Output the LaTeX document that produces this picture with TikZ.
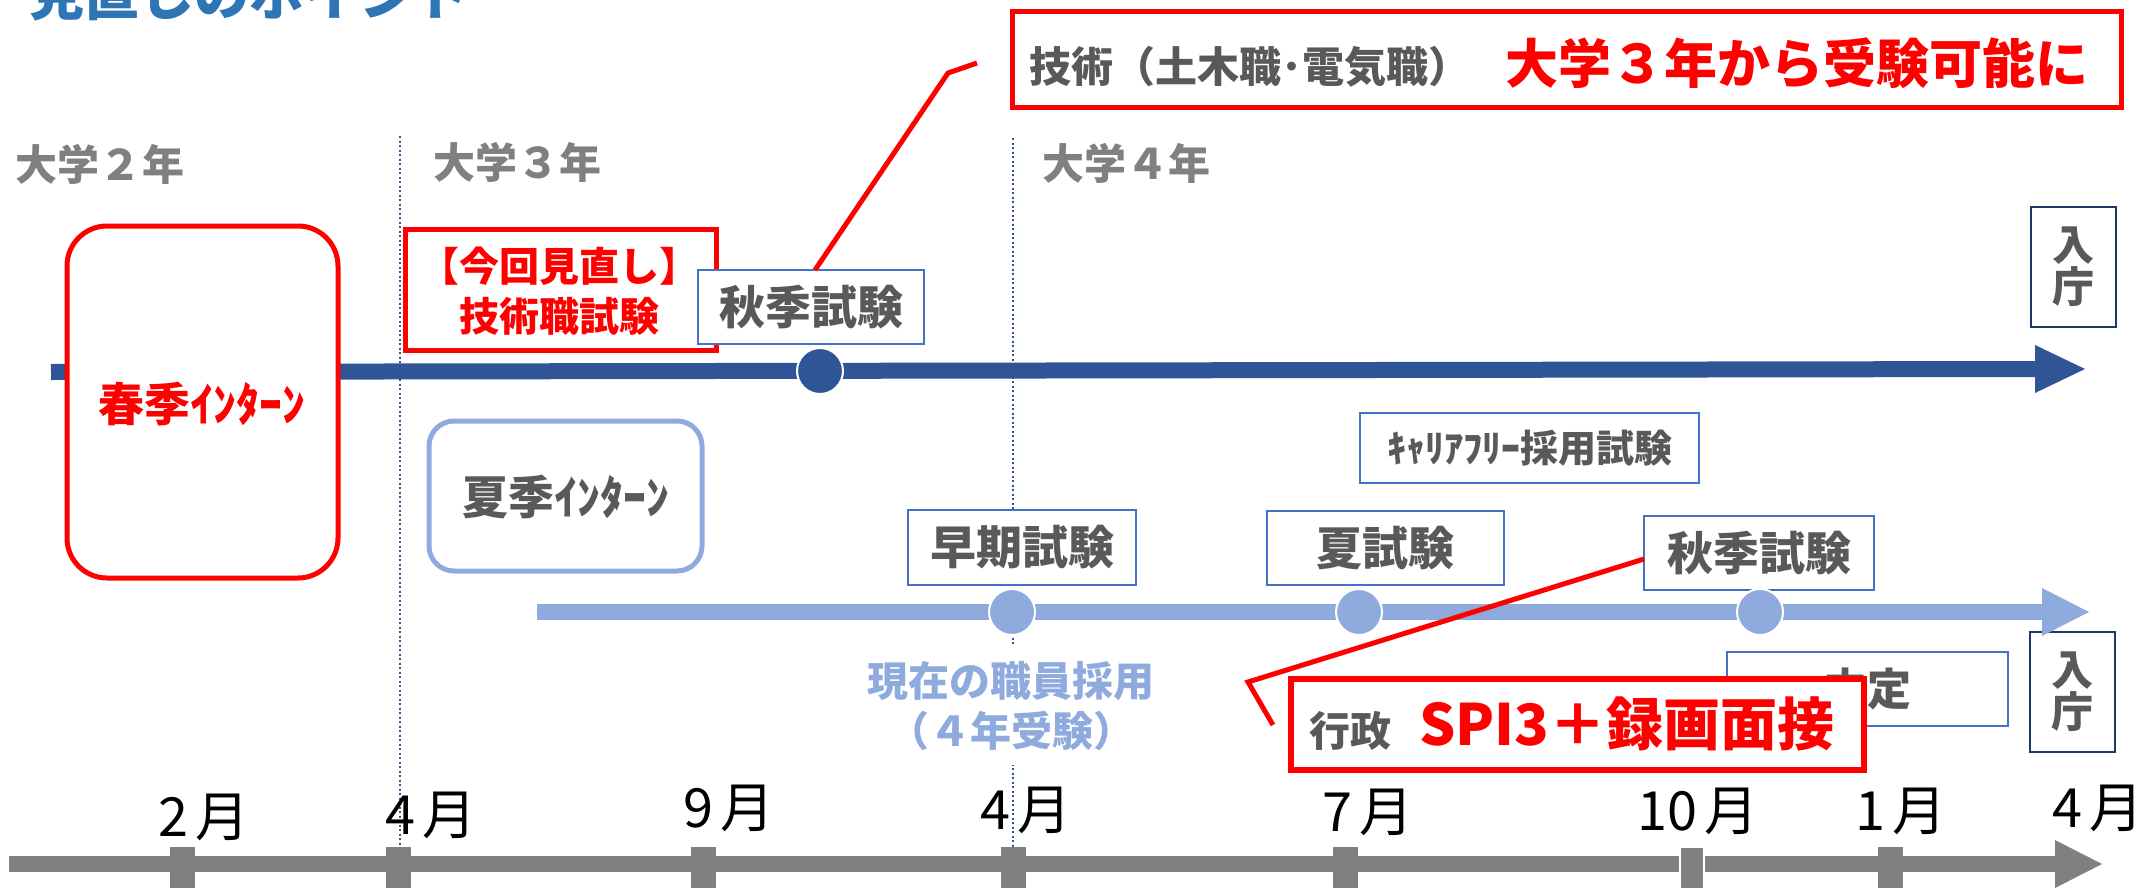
\documentclass[tikz,border=0pt]{standalone}
\usepackage{fontspec}
\newfontfamily\jp{Noto Sans CJK JP}
\definecolor{titleblue}{HTML}{2E75B6}
\definecolor{yeargray}{HTML}{808080}
\definecolor{txtgray}{HTML}{595959}
\definecolor{navy}{HTML}{2F5597}
\definecolor{lblue}{HTML}{8FAADC}
\definecolor{bblue}{HTML}{4472C4}
\definecolor{dnavy}{HTML}{203864}
\definecolor{axgray}{HTML}{808080}
\newcommand\myfs[2]{\fontsize{#1}{#2}\selectfont}
\newcommand\mon[1]{#1\hspace{7pt}月}
\begin{document}
\begin{tikzpicture}[x=1pt,y=-1pt,
  every node/.style={inner sep=0pt, outer sep=0pt},
  ebox/.style={draw=bblue, line width=2pt, fill=white, font=\jp\bfseries\myfs{46}{50}, text=txtgray},
  redbox/.style={draw=red, line width=5pt, fill=white},
  yearlbl/.style={font=\jp\bfseries\myfs{42}{46}, text=yeargray},
  monlbl/.style={font=\jp\myfs{54}{58}, text=black},
  tickbox/.style={fill=axgray, minimum width=25pt, minimum height=46pt},
  vdot/.style={draw=navy, line width=2pt, dash pattern=on 2pt off 2.5pt},
  callout/.style={draw=red, line width=5pt, line join=miter},
  nyubox/.style={draw=dnavy, line width=2.5pt, fill=white, minimum width=85pt, minimum height=120pt, align=center, font=\jp\bfseries\myfs{42}{42}, text=txtgray},
  tdot/.style={circle, fill=#1, draw=white, line width=2pt, minimum size=46pt},
]
\useasboundingbox (0,0) rectangle (2151,888);
\clip (0,0) rectangle (2151,888);
\fill[white] (0,0) rectangle (2151,888);

% title
\node[font=\jp\bfseries\myfs{55}{60}, text=titleblue, anchor=base west] (title) at (29,16) {見直しのポイント};

% year labels
\node[yearlbl] (y2) at (100,164) {大学２年};
\node[yearlbl] (y3) at (517,162) {大学３年};
\node[yearlbl] (y4) at (1126,163) {大学４年};

% dotted dividers
\coordinate (d1t) at (400,136); \coordinate (d1b) at (400,845);
\coordinate (d2t) at (1013,138); \coordinate (d2b) at (1013,847);
\draw[vdot] (d1t) -- (d1b);
\draw[vdot] (d2t) -- (d2b);

% technical timeline
\coordinate (tS) at (51,372); \coordinate (tB) at (2037,369);
\coordinate (tH1) at (2035,345); \coordinate (tTip) at (2085,369); \coordinate (tH2) at (2035,393);
\draw[navy, line width=16pt] (tS) -- (tB);
\fill[navy] (tH1) -- (tTip) -- (tH2) -- cycle;

% spring internship
\node[redbox, rounded corners=40pt, minimum width=271pt, minimum height=352pt] (haru) at (202.5,402) {};
\node[font=\jp\bfseries\myfs{46}{50}, text=red] (haruT) at (202,404) {春季ｲﾝﾀｰﾝ};

% revised technical exam
\node[redbox, minimum width=311pt, minimum height=121pt] (kaisei) at (560.5,289.5) {};
\node[font=\jp\bfseries\myfs{40}{50}, text=red, align=center] (kaiseiT) at (559,291) {【今回見直し】\\技術職試験};

% autumn exam (technical)
\node[ebox, minimum width=226pt, minimum height=74pt] (akiT) at (811,307) {秋季試験};
\node[tdot=navy] (dotT) at (820,371) {};

% callout 1
\coordinate (c1a) at (948,73); \coordinate (c1b) at (977,63);
\draw[callout] (akiT.north) ++(4,0) coordinate (c1s) -- (c1a) -- (c1b);

% top red box
\node[redbox, minimum width=1109pt, minimum height=96pt] (topred) at (1566.5,60) {};
\node[anchor=west, font=\jp\bfseries\myfs{42}{48}, text=txtgray] (gijT) at (1029,67) {技術（土木職･電気職）};
\node[anchor=east, font=\jp\bfseries\myfs{53}{58}, text=red] (gijR) at (2088,63) {大学３年から受験可能に};

% summer internship
\node[draw=lblue, line width=5pt, fill=white, rounded corners=25pt, minimum width=273pt, minimum height=150pt] (natsuI) at (565.5,496) {};
\node[font=\jp\bfseries\myfs{46}{50}, text=txtgray] (natsuIT) at (566,497) {夏季ｲﾝﾀｰﾝ};

% administrative boxes
\node[ebox, font=\jp\bfseries\myfs{38}{42}, minimum width=339pt, minimum height=70pt] (career) at (1529.5,448) {ｷｬﾘｱﾌﾘｰ採用試験};
\node[ebox, minimum width=228pt, minimum height=75pt] (souki) at (1022,547.5) {早期試験};
\node[ebox, minimum width=237pt, minimum height=74pt] (natsu) at (1385.5,548) {夏試験};
\node[ebox, minimum width=230pt, minimum height=74pt] (akiG) at (1759,553) {秋季試験};

\node[font=\jp\bfseries\myfs{41}{50}, text=lblue, align=center, fill=white, inner ysep=14pt, inner xsep=4pt] (genzai) at (1011,706) {現在の職員採用\\（４年受験）};

% entry boxes
\node[nyubox] (nyuT) at (2073.5,267) {入\\庁};
\node[nyubox] (nyuB) at (2072.5,692) {入\\庁};

% administrative timeline
\coordinate (aS) at (537,612); \coordinate (aB) at (2044,612);
\coordinate (aH1) at (2042,588); \coordinate (aTip) at (2089,612); \coordinate (aH2) at (2042,636);
\draw[lblue, line width=16pt] (aS) -- (aB);
\fill[lblue] (aH1) -- (aTip) -- (aH2) -- cycle;
\node[tdot=lblue] (dot1) at (1012,612) {};
\node[tdot=lblue] (dot2) at (1359,612) {};
\node[tdot=lblue] (dot3) at (1760,612) {};

% offer box
\node[draw=bblue, line width=2pt, fill=white, minimum width=281pt, minimum height=74pt, font=\jp\bfseries\myfs{44}{48}, text=txtgray] (naitei) at (1867.5,689) {内定};

% callout 2
\coordinate (c2a) at (1248,682); \coordinate (c2b) at (1273,725);
\draw[callout] (akiG.west) ++(0,6) coordinate (c2s) -- (c2a) -- (c2b);

% SPI box
\node[draw=red, line width=6pt, fill=white, minimum width=573pt, minimum height=91pt] (spi) at (1577.5,724.5) {};
\node[anchor=west, font=\jp\bfseries\myfs{41}{46}, text=txtgray] (gyo) at (1309,731) {行政};
\node[anchor=west, font=\jp\bfseries\myfs{57}{62}, text=red] (spiT) at (1419,724) {SPI3＋録画面接};

% month axis
\coordinate (mS) at (9,864); \coordinate (mB) at (2057,864);
\coordinate (mH1) at (2055,840); \coordinate (mTip) at (2102,864); \coordinate (mH2) at (2055,888);
\draw[axgray, line width=16pt] (mS) -- (mB);
\fill[axgray] (mH1) -- (mTip) -- (mH2) -- cycle;
\node[tickbox] (k1) at (182,870) {};
\node[tickbox] (k2) at (398,870) {};
\node[tickbox] (k3) at (703,870) {};
\node[tickbox] (k4) at (1013,870) {};
\node[tickbox] (k5) at (1345,870) {};
\node[tickbox, draw=white, line width=2pt, minimum width=24pt] (k6) at (1692,870) {};
\node[tickbox] (k7) at (1890,870) {};

\node[monlbl] (m1) at (204,817) {\mon{2}};
\node[monlbl] (m2) at (431,815) {\mon{4}};
\node[monlbl] (m3) at (729,808) {\mon{9}};
\node[monlbl] (m4) at (1026,810) {\mon{4}};
\node[monlbl] (m5) at (1368,812) {\mon{7}};
\node[monlbl] (m6) at (1698,811) {\mon{10}};
\node[monlbl] (m7) at (1901,811) {\mon{1}};
\node[monlbl] (m8) at (2098,808) {\mon{4}};
\end{tikzpicture}
\end{document}
